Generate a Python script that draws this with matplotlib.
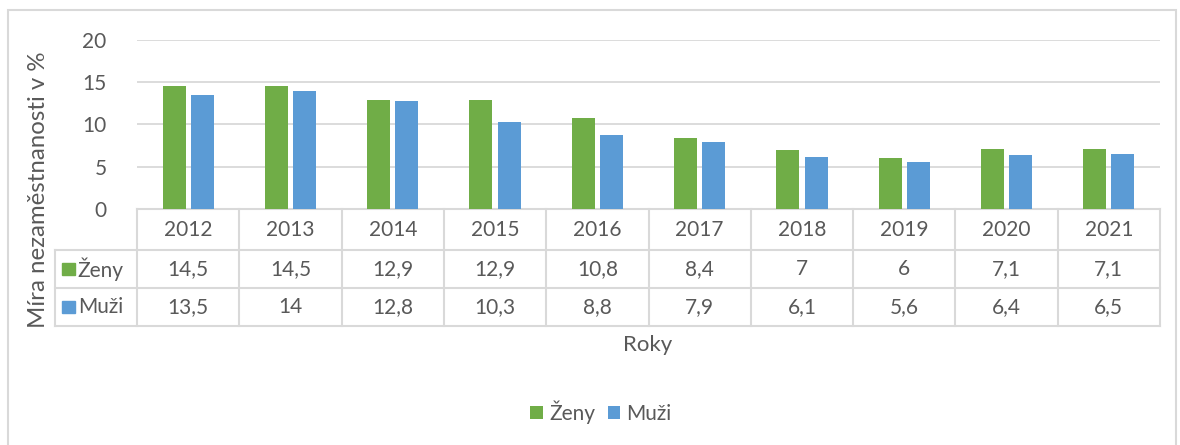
import matplotlib.pyplot as plt
import numpy as np
from matplotlib.patches import Rectangle

plt.rcParams["font.family"] = ["Lato", "DejaVu Sans"]

years = ["2012", "2013", "2014", "2015", "2016", "2017", "2018", "2019", "2020", "2021"]
zeny = [14.5, 14.5, 12.9, 12.9, 10.8, 8.4, 7, 6, 7.1, 7.1]
muzi = [13.5, 14, 12.8, 10.3, 8.8, 7.9, 6.1, 5.6, 6.4, 6.5]
series_names = ["Ženy", "Muži"]

GREEN = "#70AD47"
BLUE = "#5B9BD5"
GRID = "#D9D9D9"
TXT = "#595959"
FS = 15


def fmt(v):
    s = f"{v:g}"
    return s.replace(".", ",")


fig = plt.figure(figsize=(11.8, 4.45), dpi=100)
# outer chart border
fig.patches.append(Rectangle((8 / 1180, -0.01), 1168 / 1180, (445 - 10) / 445 + 0.01,
                             transform=fig.transFigure, fill=False, ec=GRID, lw=1.5))

ax = fig.add_axes([137 / 1180, (445 - 209) / 445, (1160 - 137) / 1180, 169 / 445])
x = np.arange(len(years))
w = 0.225
ax.bar(x - 0.138, zeny, w, color=GREEN, label=series_names[0], zorder=3)
ax.bar(x + 0.138, muzi, w, color=BLUE, label=series_names[1], zorder=3)

ax.set_xlim(-0.5, len(years) - 0.5)
ax.set_ylim(0, 20)
ax.set_yticks([0, 5, 10, 15, 20])
ax.tick_params(axis="y", length=0, labelsize=FS, colors=TXT, pad=22)
ax.set_xticks([])
ax.grid(axis="y", color=GRID, lw=1.3, zorder=0)
for s in ax.spines.values():
    s.set_visible(False)

# data table below the axis
tr = ax.get_xaxis_transform()
y_rows = [0, -0.243, -0.467, -0.692]
left_lbl = -1.30
lkw = dict(color=GRID, lw=1.5, transform=tr, clip_on=False)
ax.plot([-0.5, 9.5], [y_rows[0]] * 2, **lkw)
for yy in y_rows[1:]:
    ax.plot([left_lbl, 9.5], [yy] * 2, **lkw)
for b in np.arange(-0.5, 10, 1.0):
    ax.plot([b, b], [y_rows[0], y_rows[3]], **lkw)
ax.plot([left_lbl, left_lbl], [y_rows[1], y_rows[3]], **lkw)

tkw = dict(transform=tr, ha="center", va="center", fontsize=FS, color=TXT, clip_on=False)
for i, yr in enumerate(years):
    ax.text(i, (y_rows[0] + y_rows[1]) / 2, yr, **tkw)
    ax.text(i, (y_rows[1] + y_rows[2]) / 2, fmt(zeny[i]), **tkw)
    ax.text(i, (y_rows[2] + y_rows[3]) / 2, fmt(muzi[i]), **tkw)

for name, col, r in [(series_names[0], GREEN, 1), (series_names[1], BLUE, 2)]:
    yc = (y_rows[r] + y_rows[r + 1]) / 2
    ax.add_patch(Rectangle((left_lbl + 0.07, yc - 0.035), 0.12, 0.07, color=col,
                           transform=tr, clip_on=False))
    ax.text(left_lbl + 0.22, yc, name, transform=tr, ha="left", va="center",
            fontsize=FS, color=TXT, clip_on=False)

fig.text(648 / 1180, 1 - 345 / 445, "Roky", ha="center", va="center", fontsize=16, color=TXT)
fig.text(39 / 1180, 1 - 190 / 445, "Míra nezaměstnanosti v %", rotation=90,
         ha="center", va="center", fontsize=17.3, color=TXT)

fig.legend(loc="center", bbox_to_anchor=(601 / 1180, 1 - 412 / 445), ncol=2, frameon=False,
           fontsize=15, labelcolor=TXT, handlelength=0.6, handleheight=0.6,
           handletextpad=0.3, columnspacing=0.6)

fig.savefig("out.png", dpi=100)
